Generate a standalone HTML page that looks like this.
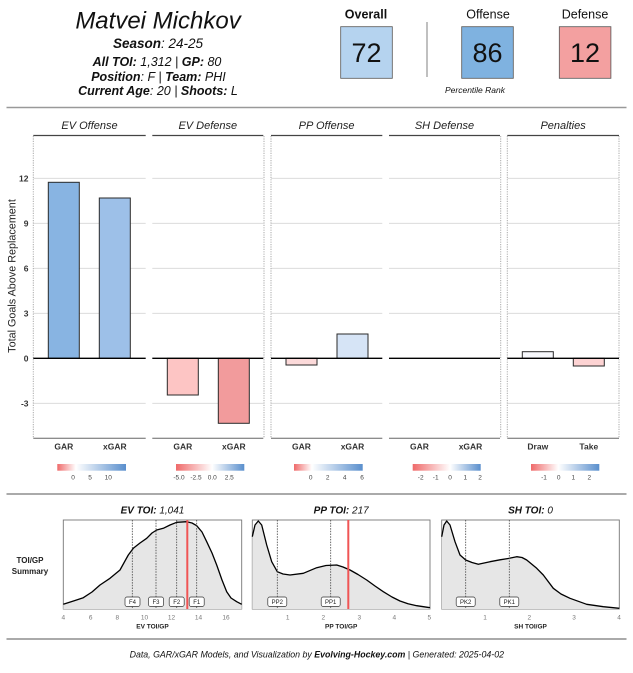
<!DOCTYPE html>
<html><head><meta charset="utf-8"><style>
html,body{margin:0;padding:0;background:#fff;}
svg{display:block;}
text{font-family:"Liberation Sans",sans-serif;}
</style></head><body>
<svg width="633" height="673" viewBox="0 0 633 673" xmlns="http://www.w3.org/2000/svg">
<defs>
<linearGradient id="g1" x1="0" x2="1" y1="0" y2="0"><stop offset="0" stop-color="#ef6a6a"/><stop offset="0.27" stop-color="#ffffff"/><stop offset="1" stop-color="#5a8fcd"/></linearGradient>
<linearGradient id="g2" x1="0" x2="1" y1="0" y2="0"><stop offset="0" stop-color="#ef6a6a"/><stop offset="0.53" stop-color="#ffffff"/><stop offset="1" stop-color="#5a8fcd"/></linearGradient>
<linearGradient id="g3" x1="0" x2="1" y1="0" y2="0"><stop offset="0" stop-color="#ef6a6a"/><stop offset="0.26" stop-color="#ffffff"/><stop offset="1" stop-color="#5a8fcd"/></linearGradient>
<linearGradient id="g4" x1="0" x2="1" y1="0" y2="0"><stop offset="0" stop-color="#ef6a6a"/><stop offset="0.55" stop-color="#ffffff"/><stop offset="1" stop-color="#5a8fcd"/></linearGradient>
<linearGradient id="g5" x1="0" x2="1" y1="0" y2="0"><stop offset="0" stop-color="#ef6a6a"/><stop offset="0.40" stop-color="#ffffff"/><stop offset="1" stop-color="#5a8fcd"/></linearGradient>
</defs>
<rect width="633" height="673" fill="#fff"/>

<!-- Header -->
<g fill="#111" text-anchor="middle">
<text x="158" y="28.5" font-size="24" font-style="italic">Matvei Michkov</text>
<text x="158" y="48" font-size="13.5" font-style="italic"><tspan font-weight="bold">Season</tspan>: 24-25</text>
<text x="157" y="66" font-size="12.5" font-style="italic"><tspan font-weight="bold">All TOI:</tspan> 1,312 | <tspan font-weight="bold">GP:</tspan> 80</text>
<text x="158.5" y="81" font-size="12.5" font-style="italic"><tspan font-weight="bold">Position</tspan>: F | <tspan font-weight="bold">Team:</tspan> PHI</text>
<text x="158" y="95" font-size="12.5" font-style="italic"><tspan font-weight="bold">Current Age</tspan>: 20 | <tspan font-weight="bold">Shoots:</tspan> L</text>
</g>

<g text-anchor="middle" fill="#111">
<text x="366" y="18.5" font-size="12.5" font-weight="bold">Overall</text>
<text x="488" y="18.5" font-size="12.5">Offense</text>
<text x="585" y="18.5" font-size="12.5">Defense</text>
<rect x="340.7" y="26.7" width="51.6" height="51.6" fill="#b5d3ef" stroke="#555" stroke-width="0.8"/>
<rect x="461.7" y="26.7" width="51.6" height="51.6" fill="#7fb2e0" stroke="#555" stroke-width="0.8"/>
<rect x="559.3" y="26.7" width="51.6" height="51.6" fill="#f3a0a0" stroke="#555" stroke-width="0.8"/>
<text x="366.5" y="62" font-size="27">72</text>
<text x="487.5" y="62" font-size="27">86</text>
<text x="585" y="62" font-size="27">12</text>
<text x="475" y="93" font-size="8.5" font-style="italic">Percentile Rank</text>
</g>
<line x1="427" y1="22" x2="427" y2="77" stroke="#aaa" stroke-width="1.5"/>
<line x1="6.5" y1="107.5" x2="626.5" y2="107.5" stroke="#999" stroke-width="1.5"/>

<!-- Main chart -->
<g font-size="11" font-style="italic" fill="#222" text-anchor="middle">
<text x="89.5" y="129">EV Offense</text>
<text x="207.8" y="129">EV Defense</text>
<text x="326.6" y="129">PP Offense</text>
<text x="444.5" y="129">SH Defense</text>
<text x="563.1" y="129">Penalties</text>
</g>

<!-- gridlines -->
<g stroke="#d6d6d6" stroke-width="0.9">
<path d="M33.3 178.3H145.7M33.3 223.3H145.7M33.3 268.3H145.7M33.3 313.3H145.7M33.3 403.3H145.7"/>
<path d="M152.3 178.3H263.3M152.3 223.3H263.3M152.3 268.3H263.3M152.3 313.3H263.3M152.3 403.3H263.3"/>
<path d="M271 178.3H382.3M271 223.3H382.3M271 268.3H382.3M271 313.3H382.3M271 403.3H382.3"/>
<path d="M389 178.3H500M389 223.3H500M389 268.3H500M389 313.3H500M389 403.3H500"/>
<path d="M507.3 178.3H619M507.3 223.3H619M507.3 268.3H619M507.3 313.3H619M507.3 403.3H619"/>
</g>

<!-- strip lines and bottom axis -->
<g stroke="#444" stroke-width="1.2">
<path d="M33.3 135.5H145.7M152.3 135.5H263.3M271 135.5H382.3M389 135.5H500M507.3 135.5H619"/>
</g>
<g stroke="#666" stroke-width="1">
<path d="M33.3 438.3H145.7M152.3 438.3H263.3M271 438.3H382.3M389 438.3H500M507.3 438.3H619"/>
</g>
<g stroke="#aaa" stroke-width="1" stroke-dasharray="1.2,1.2">
<path d="M33.3 136V438M264 136V438M271 136V438M500.7 136V438M507.3 136V438M619 136V438"/>
</g>

<!-- bars -->
<g stroke="#2a2a2a" stroke-width="1">
<rect x="48.3" y="182.3" width="31" height="176" fill="#88b4e2"/>
<rect x="99.3" y="198" width="31" height="160.3" fill="#9dc0e8"/>
<rect x="167.3" y="358.3" width="31" height="36.7" fill="#fdc5c4"/>
<rect x="218.3" y="358.3" width="31" height="65" fill="#f29b9c"/>
<rect x="286" y="358.3" width="31" height="6.7" fill="#fcdada"/>
<rect x="337" y="334" width="31" height="24.3" fill="#d6e4f6"/>
<rect x="522.3" y="351.7" width="31" height="6.6" fill="#f7f8fc"/>
<rect x="573.3" y="358.3" width="31" height="7.7" fill="#fdd3d3"/>
</g>

<!-- zero line -->
<g stroke="#000" stroke-width="1.3">
<path d="M33.3 358.3H145.7M152.3 358.3H263.3M271 358.3H382.3M389 358.3H500M507.3 358.3H619"/>
</g>

<!-- y ticks -->
<g font-size="8.5" font-weight="bold" fill="#333" text-anchor="end">
<text x="28.5" y="181.5">12</text>
<text x="28.5" y="226.5">9</text>
<text x="28.5" y="271.5">6</text>
<text x="28.5" y="316.5">3</text>
<text x="28.5" y="361.5">0</text>
<text x="28.5" y="406.5">-3</text>
</g>
<text transform="translate(15.5,276) rotate(-90)" font-size="10.8" fill="#222" text-anchor="middle">Total Goals Above Replacement</text>

<!-- x labels -->
<g font-size="8.5" font-weight="bold" fill="#333" text-anchor="middle">
<text x="63.8" y="449.5">GAR</text>
<text x="114.8" y="449.5">xGAR</text>
<text x="182.8" y="449.5">GAR</text>
<text x="233.8" y="449.5">xGAR</text>
<text x="301.5" y="449.5">GAR</text>
<text x="352.5" y="449.5">xGAR</text>
<text x="419.5" y="449.5">GAR</text>
<text x="470.5" y="449.5">xGAR</text>
<text x="537.8" y="449.5">Draw</text>
<text x="588.8" y="449.5">Take</text>
</g>

<!-- legends -->
<rect x="57.3" y="464" width="68.7" height="6.7" fill="url(#g1)"/>
<rect x="176" y="464" width="68.3" height="6.7" fill="url(#g2)"/>
<rect x="294" y="464" width="68.7" height="6.7" fill="url(#g3)"/>
<rect x="412.7" y="464" width="68" height="6.7" fill="url(#g4)"/>
<rect x="531" y="464" width="68.3" height="6.7" fill="url(#g5)"/>
<g font-size="6.5" fill="#444" text-anchor="middle">
<text x="73" y="479.5">0</text><text x="90" y="479.5">5</text><text x="108.3" y="479.5">10</text>
<text x="179" y="479.5">-5.0</text><text x="196" y="479.5">-2.5</text><text x="212.3" y="479.5">0.0</text><text x="229.3" y="479.5">2.5</text>
<text x="310.7" y="479.5">0</text><text x="327.7" y="479.5">2</text><text x="344.7" y="479.5">4</text><text x="362" y="479.5">6</text>
<text x="420.7" y="479.5">-2</text><text x="435.7" y="479.5">-1</text><text x="450" y="479.5">0</text><text x="465.3" y="479.5">1</text><text x="480" y="479.5">2</text>
<text x="544" y="479.5">-1</text><text x="558.7" y="479.5">0</text><text x="573.3" y="479.5">1</text><text x="589.3" y="479.5">2</text>
</g>

<line x1="6.5" y1="494" x2="626.5" y2="494" stroke="#777" stroke-width="1.2"/>

<!-- Bottom TOI panels -->
<g font-size="8" font-weight="bold" fill="#222" text-anchor="middle">
<text x="30" y="563">TOI/GP</text>
<text x="30" y="574">Summary</text>
</g>
<g font-size="10" font-style="italic" fill="#111" text-anchor="middle">
<text x="152.5" y="513.5"><tspan font-weight="bold">EV TOI:</tspan> 1,041</text>
<text x="341.2" y="513.5"><tspan font-weight="bold">PP TOI:</tspan> 217</text>
<text x="530.5" y="513.5"><tspan font-weight="bold">SH TOI:</tspan> 0</text>
</g>

<!-- panel 1 -->
<rect x="63.3" y="520" width="178.4" height="89" fill="#fff" stroke="#777" stroke-width="0.9"/>
<path d="M63.3 604.3 L75 600.5 L83.3 597.7 L92 592 L100 585 L110 578.3 L120 570 L128.3 555 L133.3 548.3 L140 543 L146.7 538.3 L152 533 L156.7 530 L163.3 528.3 L170 525 L176.7 522.3 L186.7 521.7 L192 523 L196.7 525.7 L202 532 L206.7 541.7 L212 553 L216.7 565 L222 580 L226.7 591.7 L231 598 L236.7 601.7 L241.7 604.3 L241.7 609 L63.3 609 Z" fill="#e6e6e6" stroke="none"/>
<polyline points="63.3,604.3 75,600.5 83.3,597.7 92,592 100,585 110,578.3 120,570 128.3,555 133.3,548.3 140,543 146.7,538.3 152,533 156.7,530 163.3,528.3 170,525 176.7,522.3 186.7,521.7 192,523 196.7,525.7 202,532 206.7,541.7 212,553 216.7,565 222,580 226.7,591.7 231,598 236.7,601.7 241.7,604.3" fill="none" stroke="#000" stroke-width="1.3" stroke-linejoin="round"/>
<g stroke="#444" stroke-width="0.8" stroke-dasharray="1.5,1.2">
<path d="M132.3 520V609M156 520V609M176.7 520V609M196.7 520V609"/>
</g>
<line x1="187.3" y1="520" x2="187.3" y2="609" stroke="#f05555" stroke-width="2"/>
<g font-size="6" fill="#222" text-anchor="middle">
<rect x="125" y="597" width="15" height="9.5" rx="2" fill="#fff" stroke="#333" stroke-width="0.7"/><text x="132.5" y="604">F4</text>
<rect x="148.5" y="597" width="15" height="9.5" rx="2" fill="#fff" stroke="#333" stroke-width="0.7"/><text x="156" y="604">F3</text>
<rect x="169.2" y="597" width="15" height="9.5" rx="2" fill="#fff" stroke="#333" stroke-width="0.7"/><text x="176.7" y="604">F2</text>
<rect x="189.2" y="597" width="15" height="9.5" rx="2" fill="#fff" stroke="#333" stroke-width="0.7"/><text x="196.7" y="604">F1</text>
</g>
<g font-size="6.5" fill="#777" text-anchor="middle">
<text x="63.3" y="619.5">4</text><text x="90.7" y="619.5">6</text><text x="117.3" y="619.5">8</text><text x="144.5" y="619.5">10</text><text x="171.5" y="619.5">12</text><text x="198.5" y="619.5">14</text><text x="226" y="619.5">16</text>
</g>
<text x="152.5" y="628.5" font-size="6.5" font-weight="bold" fill="#222" text-anchor="middle">EV TOI/GP</text>

<!-- panel 2 -->
<rect x="252.3" y="520" width="177.7" height="89" fill="#fff" stroke="#777" stroke-width="0.9"/>
<path d="M252.3 536.7 L255 525 L258.3 521 L261.7 525 L266.7 545 L271.7 561.7 L277.3 571.7 L283 574 L290 575 L303.3 573.3 L316.7 567.7 L326 565.5 L336.7 565 L343 567 L350 570 L358 574.5 L366.7 580 L375 586 L383.3 591.7 L392 597 L400 601 L408 603.8 L416.7 605.7 L430 607.7 L430 609 L252.3 609 Z" fill="#e6e6e6"/>
<polyline points="252.3,536.7 255,525 258.3,521 261.7,525 266.7,545 271.7,561.7 277.3,571.7 283,574 290,575 303.3,573.3 316.7,567.7 326,565.5 336.7,565 343,567 350,570 358,574.5 366.7,580 375,586 383.3,591.7 392,597 400,601 408,603.8 416.7,605.7 430,607.7" fill="none" stroke="#000" stroke-width="1.3" stroke-linejoin="round"/>
<g stroke="#444" stroke-width="0.8" stroke-dasharray="1.5,1.2">
<path d="M277.3 520V609M330.7 520V609"/>
</g>
<line x1="348.3" y1="520" x2="348.3" y2="609" stroke="#f05555" stroke-width="2"/>
<g font-size="6" fill="#222" text-anchor="middle">
<rect x="267.8" y="597" width="19" height="9.5" rx="2" fill="#fff" stroke="#333" stroke-width="0.7"/><text x="277.3" y="604">PP2</text>
<rect x="321.2" y="597" width="19" height="9.5" rx="2" fill="#fff" stroke="#333" stroke-width="0.7"/><text x="330.7" y="604">PP1</text>
</g>
<g font-size="6.5" fill="#777" text-anchor="middle">
<text x="287.7" y="619.5">1</text><text x="323.3" y="619.5">2</text><text x="359.3" y="619.5">3</text><text x="394.3" y="619.5">4</text><text x="429.3" y="619.5">5</text>
</g>
<text x="341.2" y="628.5" font-size="6.5" font-weight="bold" fill="#222" text-anchor="middle">PP TOI/GP</text>

<!-- panel 3 -->
<rect x="441.7" y="520" width="177.6" height="89" fill="#fff" stroke="#777" stroke-width="0.9"/>
<path d="M441.7 536.7 L444 525 L446.7 521 L450 525 L455 541.7 L460 555 L465.7 560 L472 562.5 L478.3 564.3 L490 561.7 L500 559.8 L509.3 558.3 L516.7 556.7 L522 557.5 L526.7 560 L536.7 568.3 L543.3 575 L553.3 588.3 L561 594 L570 598.3 L586.7 604.3 L603.3 606.7 L619.3 608.3 L619.3 609 L441.7 609 Z" fill="#e6e6e6"/>
<polyline points="441.7,536.7 444,525 446.7,521 450,525 455,541.7 460,555 465.7,560 472,562.5 478.3,564.3 490,561.7 500,559.8 509.3,558.3 516.7,556.7 522,557.5 526.7,560 536.7,568.3 543.3,575 553.3,588.3 561,594 570,598.3 586.7,604.3 603.3,606.7 619.3,608.3" fill="none" stroke="#000" stroke-width="1.3" stroke-linejoin="round"/>
<g stroke="#444" stroke-width="0.8" stroke-dasharray="1.5,1.2">
<path d="M465.7 520V609M509.3 520V609"/>
</g>
<g font-size="6" fill="#222" text-anchor="middle">
<rect x="456.2" y="597" width="19" height="9.5" rx="2" fill="#fff" stroke="#333" stroke-width="0.7"/><text x="465.7" y="604">PK2</text>
<rect x="499.8" y="597" width="19" height="9.5" rx="2" fill="#fff" stroke="#333" stroke-width="0.7"/><text x="509.3" y="604">PK1</text>
</g>
<g font-size="6.5" fill="#777" text-anchor="middle">
<text x="485" y="619.5">1</text><text x="529.3" y="619.5">2</text><text x="574" y="619.5">3</text><text x="619" y="619.5">4</text>
</g>
<text x="530.5" y="628.5" font-size="6.5" font-weight="bold" fill="#222" text-anchor="middle">SH TOI/GP</text>

<!-- footer -->
<line x1="6.5" y1="639" x2="626.5" y2="639" stroke="#777" stroke-width="1.2"/>
<text x="316.8" y="657.5" font-size="8.8" font-style="italic" fill="#111" text-anchor="middle">Data, GAR/xGAR Models, and Visualization by <tspan font-weight="bold">Evolving-Hockey.com</tspan> | Generated: 2025-04-02</text>
</svg>
</body></html>
